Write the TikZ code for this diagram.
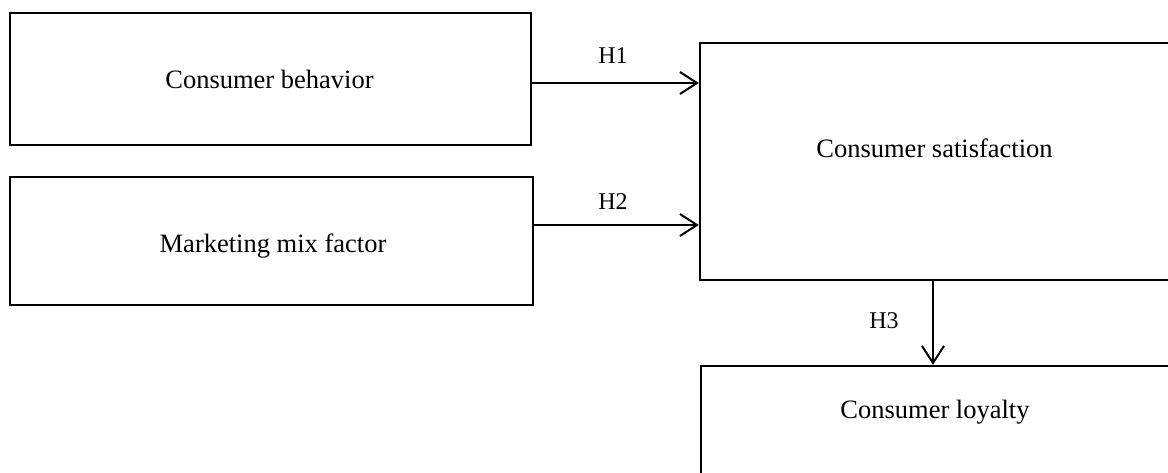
\documentclass[tikz,border=0pt]{standalone}
\usepackage{fontspec}
\setmainfont{Liberation Serif}
\usetikzlibrary{arrows.meta}
\begin{document}
\begin{tikzpicture}[x=1pt,y=-1pt,
  box/.style={draw=black,line width=2.4pt,rectangle,inner sep=0pt},
  lbl/.style={font=\fontsize{26.5}{30}\selectfont,anchor=base,inner sep=0pt},
  hyp/.style={font=\fontsize{24}{28}\selectfont,anchor=base,inner sep=0pt},
  arr/.style={line width=2pt,-{Straight Barb[length=17pt,width=22pt,line width=2pt]}}]
  \useasboundingbox (0,0) rectangle (1168,472);
  % construct boxes
  \node[box,minimum width=521pt,minimum height=132pt] (b1) at (270.5,79) {};
  \node[box,minimum width=523pt,minimum height=128pt] (b2) at (271.5,241) {};
  \node[box,minimum width=472pt,minimum height=237pt] (b3) at (936,161.5) {};
  \node[box,minimum width=471pt,minimum height=114pt] (b4) at (936.5,423) {};
  % box captions
  \node[lbl] (t1) at (269.5,88) {Consumer behavior};
  \node[lbl] (t2) at (273,252) {Marketing mix factor};
  \node[lbl] (t3) at (934.5,157) {Consumer satisfaction};
  \node[lbl] (t4) at (935,418) {Consumer loyalty};
  % hypothesised paths
  \draw[arr] ([yshift=-4pt]b1.east) coordinate (s1) -- (s1 -| b3.west);
  \draw[arr] ([yshift=16pt]b2.east) coordinate (s2) -- (s2 -| b3.west);
  \draw[arr] ([xshift=-3pt]b3.south) coordinate (s3) -- (s3 |- b4.north);
  \node[hyp] (h1) at (613,63) {H1};
  \node[hyp] (h2) at (613,209) {H2};
  \node[hyp] (h3) at (884,328) {H3};
\end{tikzpicture}
\end{document}
